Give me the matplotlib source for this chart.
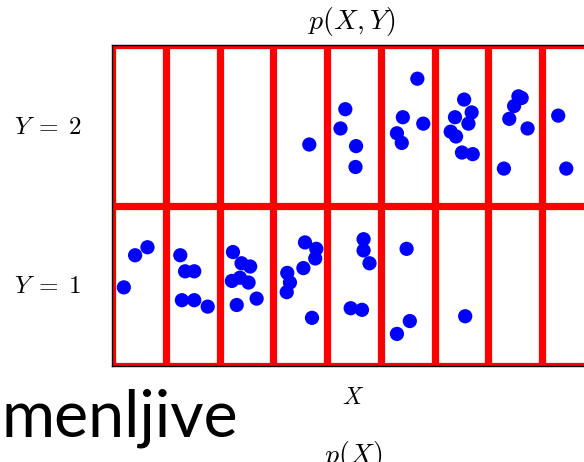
import matplotlib
matplotlib.use("Agg")
import matplotlib.pyplot as plt

plt.rcParams["mathtext.fontset"] = "cm"

# Joint sample of (X, Y): X takes 9 values (columns), Y takes 2 values (rows)
n_x = 9
n_y = 2

# Samples with Y = 2 (upper row): horizontal position within X cells, vertical jitter
x_y2 = [3.67,
        4.34, 4.25, 4.54, 4.53,
        5.68, 5.41, 5.79, 5.30, 5.39,
        6.55, 6.69, 6.38, 6.63, 6.30, 6.40, 6.51, 6.71,
        7.56, 7.62, 7.48, 7.39, 7.73, 7.29,
        8.30, 8.45]
v_y2 = [1.38,
        1.60, 1.48, 1.37, 1.24,
        1.79, 1.55, 1.51, 1.45, 1.39,
        1.66, 1.58, 1.55, 1.51, 1.46, 1.43, 1.33, 1.32,
        1.68, 1.67, 1.62, 1.54, 1.48, 1.23,
        1.56, 1.23]

# Samples with Y = 1 (lower row)
x_y1 = [0.22, 0.43, 0.66,
        1.27, 1.36, 1.53, 1.30, 1.53, 1.78,
        2.25, 2.41, 2.57, 2.23, 2.38, 2.54, 2.32, 2.69,
        3.59, 3.80, 3.78, 3.56, 3.26, 3.31, 3.25, 3.72,
        4.68, 4.68, 4.79, 4.44, 4.65,
        5.48, 5.54, 5.30,
        6.57]
v_y1 = [0.49, 0.69, 0.74,
        0.69, 0.59, 0.59, 0.41, 0.41, 0.37,
        0.71, 0.64, 0.62, 0.53, 0.55, 0.52, 0.38, 0.42,
        0.77, 0.73, 0.67, 0.61, 0.58, 0.52, 0.46, 0.30,
        0.79, 0.72, 0.64, 0.36, 0.35,
        0.73, 0.28, 0.20,
        0.31]

row_labels = [r"$Y\;=\;1$", r"$Y\;=\;2$"]
title = r"$p(X,Y)$"
x_label = r"$X$"
marginal_label = r"$p(X)$"
caption = "menljive"

W, H = 584, 462
fig = plt.figure(figsize=(W / 100, H / 100), dpi=100)
fig.patch.set_facecolor("white")

# grid box in pixels
left, top, bottom = 112, 45, 366
cell_w = 53.76
ax = fig.add_axes([left / W, (H - bottom) / H, n_x * cell_w / W, (bottom - top) / H])
ax.set_xlim(0, n_x)
ax.set_ylim(0, n_y)
ax.set_xticks([])
ax.set_yticks([])
for s in ax.spines.values():
    s.set_color("black")
    s.set_linewidth(1.0)
    s.set_zorder(5)

red = (1.0, 0.0, 0.0)
for i in range(n_x + 1):
    ax.axvline(i, color=red, lw=5.2, zorder=1)
for j in range(n_y + 1):
    ax.axhline(j, color=red, lw=5.2, zorder=1)

blue = (0.0, 0.0, 1.0)
ax.scatter(x_y2, v_y2, s=105, color=blue, edgecolors="none", zorder=3)
ax.scatter(x_y1, v_y1, s=105, color=blue, edgecolors="none", zorder=3)

def px(x, y):
    return x / W, 1 - y / H

fig.text(*px(352, 22), title, ha="center", va="center", fontsize=20)
fig.text(*px(48, 127), row_labels[1], ha="center", va="center", fontsize=18)
fig.text(*px(48, 286), row_labels[0], ha="center", va="center", fontsize=18)
fig.text(*px(353, 397), x_label, ha="center", va="center", fontsize=17)
fig.text(*px(353, 455), marginal_label, ha="center", va="center", fontsize=20)
fig.text(*px(2, 437), caption, ha="left", va="baseline", fontsize=46.5,
         family=["Lato", "DejaVu Sans"])

fig.savefig("out.png", dpi=100, facecolor="white")
